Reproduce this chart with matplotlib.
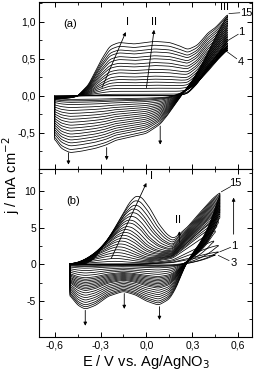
import numpy as np
import matplotlib
matplotlib.use("Agg")
import matplotlib.pyplot as plt
from matplotlib.ticker import FuncFormatter, MultipleLocator

plt.rcParams.update({
    'font.family': 'Liberation Sans',
    'font.size': 8,
    'axes.linewidth': 0.8,
})

# ---------------------------------------------------------------------------
# Panel (a): per-cycle values
# ---------------------------------------------------------------------------
plateau_a = [0.0, 0.0, 0.0, 0.02, 0.06, 0.10, 0.14, 0.18, 0.22, 0.26,
             0.31, 0.35, 0.40, 0.44, 0.49, 0.53, 0.58, 0.62, 0.67, 0.72]
end_a = [0.72, 0.68, 0.65, 0.63, 0.66, 0.69, 0.72, 0.75, 0.78, 0.81,
         0.84, 0.87, 0.90, 0.93, 0.96, 0.99, 1.02, 1.05, 1.08, 1.10]
cath_a = [0.05, 0.07, 0.09, 0.12, 0.16, 0.20, 0.24, 0.28, 0.32, 0.36,
          0.40, 0.44, 0.48, 0.52, 0.56, 0.60, 0.64, 0.68, 0.73, 0.77]
E_min_a, E_max_a = -0.60, 0.53

# curve shapes (normalised)
plat_E = [-0.60, -0.45, -0.38, -0.30, -0.24, -0.18, -0.08, 0.05, 0.15, 0.22, 0.28, 0.35, 0.45, 0.55]
plat_v = [0.0, 0.0, 0.20, 0.65, 0.93, 1.0, 0.97, 1.02, 1.0, 0.92, 0.78, 0.60, 0.40, 0.30]
rise_a_E = [0.15, 0.22, 0.27, 0.33, 0.40, 0.47, 0.53]
rise_a_v = [0.0, 0.01, 0.05, 0.24, 0.56, 0.79, 1.0]
back_a_E = [0.15, 0.22, 0.30, 0.36, 0.42, 0.47, 0.53]
back_a_v = [0.0, 0.05, 0.20, 0.38, 0.60, 0.80, 1.0]
cat_a_E = [-0.60, -0.56, -0.50, -0.42, -0.33, -0.26, -0.20, -0.10, 0.0, 0.09, 0.15, 0.22, 0.28, 0.35, 0.53]
cat_a_v = [-0.75, -0.92, -1.0, -0.97, -0.92, -0.86, -0.78, -0.72, -0.66, -0.50, -0.30, -0.10, -0.03, 0.0, 0.0]

# ---------------------------------------------------------------------------
# Panel (b)
# ---------------------------------------------------------------------------
peak_b = [0.0, 0.0, 0.0, 0.4, 0.8, 1.2, 1.6, 2.0, 2.4, 2.8, 3.2, 3.6,
          4.0, 4.4, 4.8, 5.2, 5.7, 6.1, 6.6, 7.1, 7.6, 8.1, 8.7, 9.3]
peak_pos_b = [-0.22, -0.22, -0.22, -0.22, -0.215, -0.21, -0.20, -0.195, -0.19, -0.18,
              -0.175, -0.165, -0.16, -0.15, -0.145, -0.135, -0.125, -0.12, -0.11, -0.10,
              -0.095, -0.085, -0.078, -0.07]
end_b = [2.6, 1.7, 1.3, 3.2, 4.6, 5.4, 5.9, 6.3, 6.6, 6.9, 7.2, 7.4,
         7.6, 7.8, 8.0, 8.2, 8.4, 8.6, 8.8, 9.0, 9.2, 9.4, 9.6, 9.8]
E_max_b = [0.47, 0.47, 0.45, 0.44, 0.45, 0.46, 0.47, 0.47, 0.48, 0.48, 0.48, 0.48,
           0.48, 0.48, 0.48, 0.48, 0.48, 0.48, 0.48, 0.48, 0.48, 0.48, 0.48, 0.48]
cath_b = [0.1, 0.2, 0.3, 0.5, 0.8, 1.1, 1.4, 1.7, 1.9, 2.1, 2.3, 2.5,
          2.7, 2.9, 3.1, 3.3, 3.6, 3.9, 4.2, 4.5, 4.8, 5.1, 5.35, 5.6]
E_min_b = -0.50

pk_dE = [-0.33, -0.27, -0.20, -0.14, -0.08, -0.04, 0.0, 0.04, 0.09, 0.14, 0.20, 0.26, 0.34, 0.44, 0.60]
pk_v = [0.0, 0.08, 0.30, 0.52, 0.76, 0.91, 1.0, 0.97, 0.80, 0.55, 0.32, 0.17, 0.08, 0.03, 0.0]
rise_b_E = [-0.10, 0.0, 0.08, 0.17, 0.27, 0.35, 0.43, 0.48]
rise_b_v = [0.0, 0.02, 0.08, 0.155, 0.45, 0.69, 0.90, 1.0]
back_b_E = [0.18, 0.25, 0.30, 0.35, 0.40, 0.44, 0.48]
back_b_v = [0.0, 0.05, 0.15, 0.30, 0.50, 0.72, 1.0]
cat_b_E = [-0.50, -0.45, -0.40, -0.33, -0.25, -0.15, -0.07, 0.0, 0.08, 0.15, 0.20, 0.25, 0.30, 0.48]
cat_b_v = [-0.75, -1.0, -1.1, -1.0, -0.78, -0.66, -0.75, -0.90, -1.0, -0.85, -0.55, -0.15, 0.0, 0.0]


def smooth(y, w=6):
    k = np.exp(-0.5 * (np.arange(-3 * w, 3 * w + 1) / w) ** 2)
    k /= k.sum()
    return np.convolve(np.pad(y, 3 * w, mode='edge'), k, mode='valid')


def cycle_a(k):
    E = np.arange(E_min_a, E_max_a + 1e-9, 0.002)
    plat = plateau_a[k] * np.interp(E, plat_E, plat_v)
    base = np.interp(E, [-0.60, -0.50, -0.43], [-0.05, -0.03, 0.0]) * cath_a[k] / cath_a[-1]
    r = end_a[k] - plateau_a[k] * np.interp(E_max_a, plat_E, plat_v)
    an = smooth(plat + base + r * np.interp(E, rise_a_E, rise_a_v))
    Ec = E[::-1]
    ca = an[-1] * np.interp(Ec, back_a_E, back_a_v) + cath_a[k] * np.interp(Ec, cat_a_E, cat_a_v)
    ca = smooth(ca)
    return np.concatenate([E, Ec, E[:1]]), np.concatenate([an, ca, an[:1]])


def cycle_b(k):
    emax = E_max_b[k]
    E = np.arange(E_min_b, emax + 1e-9, 0.002)
    pk = peak_b[k] * np.interp(E - peak_pos_b[k], pk_dE, pk_v)
    pk_end = peak_b[k] * np.interp(emax - peak_pos_b[k], pk_dE, pk_v)
    rise = np.interp(E, rise_b_E, rise_b_v) / np.interp(emax, rise_b_E, rise_b_v)
    an = smooth(pk + (end_b[k] - pk_end) * rise)
    Ec = E[::-1]
    back = np.interp(Ec, back_b_E, back_b_v) / np.interp(emax, back_b_E, back_b_v)
    ca = smooth(an[-1] * back + cath_b[k] * np.interp(Ec, cat_b_E, cat_b_v))
    return np.concatenate([E, Ec, E[:1]]), np.concatenate([an, ca, an[:1]])


fig = plt.figure(figsize=(2.54, 3.74), dpi=100)
ax_a = fig.add_axes([0.155, 0.548, 0.837, 0.4475])
ax_b = fig.add_axes([0.155, 0.0997, 0.837, 0.4483])

for k in range(len(plateau_a)):
    x, y = cycle_a(k)
    ax_a.plot(x, y, color='black', lw=0.55)
for k in range(len(peak_b)):
    x, y = cycle_b(k)
    ax_b.plot(x, y, color='black', lw=0.55)

comma1 = FuncFormatter(lambda v, p: f"{v:.1f}".replace('.', ','))
for ax in (ax_a, ax_b):
    ax.set_xlim(-0.70, 0.69)
    ax.xaxis.set_major_locator(MultipleLocator(0.3))
    ax.xaxis.set_minor_locator(MultipleLocator(0.15))
    ax.xaxis.set_major_formatter(comma1)
    ax.tick_params(which='both', direction='in', top=True, right=True, labelsize=7.5, pad=2.5)
    ax.tick_params(which='major', length=3.5, width=0.7)
    ax.tick_params(which='minor', length=2, width=0.6)

ax_a.set_ylim(-0.99, 1.27)
ax_a.yaxis.set_major_locator(MultipleLocator(0.5))
ax_a.yaxis.set_minor_locator(MultipleLocator(0.25))
ax_a.yaxis.set_major_formatter(comma1)
ax_a.tick_params(labelbottom=False)

ax_b.set_ylim(-9.9, 13)
ax_b.yaxis.set_major_locator(MultipleLocator(5))
ax_b.yaxis.set_minor_locator(MultipleLocator(2.5))
ax_b.yaxis.set_major_formatter(FuncFormatter(lambda v, p: f"{v:.0f}"))

ah = dict(arrowstyle='-|>', lw=0.6, color='black', mutation_scale=5, shrinkA=0, shrinkB=0)
fs = 8

# annotations panel (a)
ax_a.text(-0.50, 0.97, '(a)', fontsize=fs, ha='center', va='center')
ax_a.text(-0.125, 1.0, 'I', fontsize=fs, ha='center', va='center')
ax_a.text(0.05, 1.0, 'II', fontsize=fs, ha='center', va='center')
ax_a.text(0.51, 1.2, 'III', fontsize=fs, ha='center', va='center')
ax_a.annotate('', xy=(-0.135, 0.86), xytext=(-0.29, 0.11), arrowprops=ah)
ax_a.annotate('', xy=(0.05, 0.89), xytext=(0.0, 0.11), arrowprops=ah)
for ex, y0, y1 in [(-0.51, -0.77, -0.93), (-0.26, -0.70, -0.87), (0.09, -0.41, -0.66)]:
    ax_a.annotate('', xy=(ex, y1), xytext=(ex, y0), arrowprops=ah)
ax_a.plot([0.54, 0.61], [1.11, 1.12], color='black', lw=0.5)
ax_a.text(0.612, 1.115, '15', fontsize=fs, va='center')
ax_a.plot([0.52, 0.60], [0.73, 0.83], color='black', lw=0.5)
ax_a.text(0.60, 0.86, '1', fontsize=fs, va='center')
ax_a.plot([0.51, 0.59], [0.62, 0.50], color='black', lw=0.5)
ax_a.text(0.595, 0.45, '4', fontsize=fs, va='center')

# annotations panel (b)
ax_b.text(-0.48, 8.6, '(b)', fontsize=fs, ha='center', va='center')
ax_b.text(0.035, 12.0, 'I', fontsize=fs, ha='center', va='center')
ax_b.annotate('', xy=(0.0, 11.1), xytext=(-0.23, 0.8), arrowprops=ah)
ax_b.text(0.205, 6.1, 'II', fontsize=fs, ha='center', va='center')
ax_b.annotate('', xy=(0.215, 4.5), xytext=(0.215, 3.0), arrowprops=ah)
ax_b.annotate('', xy=(0.57, 9.1), xytext=(0.57, 4.1), arrowprops=ah)
for ex, y0, y1 in [(-0.40, -6.3, -8.4), (-0.145, -4.0, -6.1), (0.085, -5.8, -7.6)]:
    ax_b.annotate('', xy=(ex, y1), xytext=(ex, y0), arrowprops=ah)
ax_b.plot([0.49, 0.55], [9.9, 10.6], color='black', lw=0.5)
ax_b.text(0.54, 11.1, '15', fontsize=fs, va='center')
ax_b.plot([0.48, 0.55], [1.7, 2.3], color='black', lw=0.5)
ax_b.text(0.555, 2.5, '1', fontsize=fs, va='center')
ax_b.plot([0.47, 0.54], [1.2, 0.5], color='black', lw=0.5)
ax_b.text(0.55, 0.1, '3', fontsize=fs, va='center')

fig.text(0.045, 0.53, 'j / mA cm$^{-2}$', rotation=90, fontsize=10.5, ha='center', va='center')
fig.text(0.573, 0.032, 'E / V vs. Ag/AgNO$_3$', fontsize=10.5, ha='center', va='center')

fig.savefig('out.png', dpi=100)
